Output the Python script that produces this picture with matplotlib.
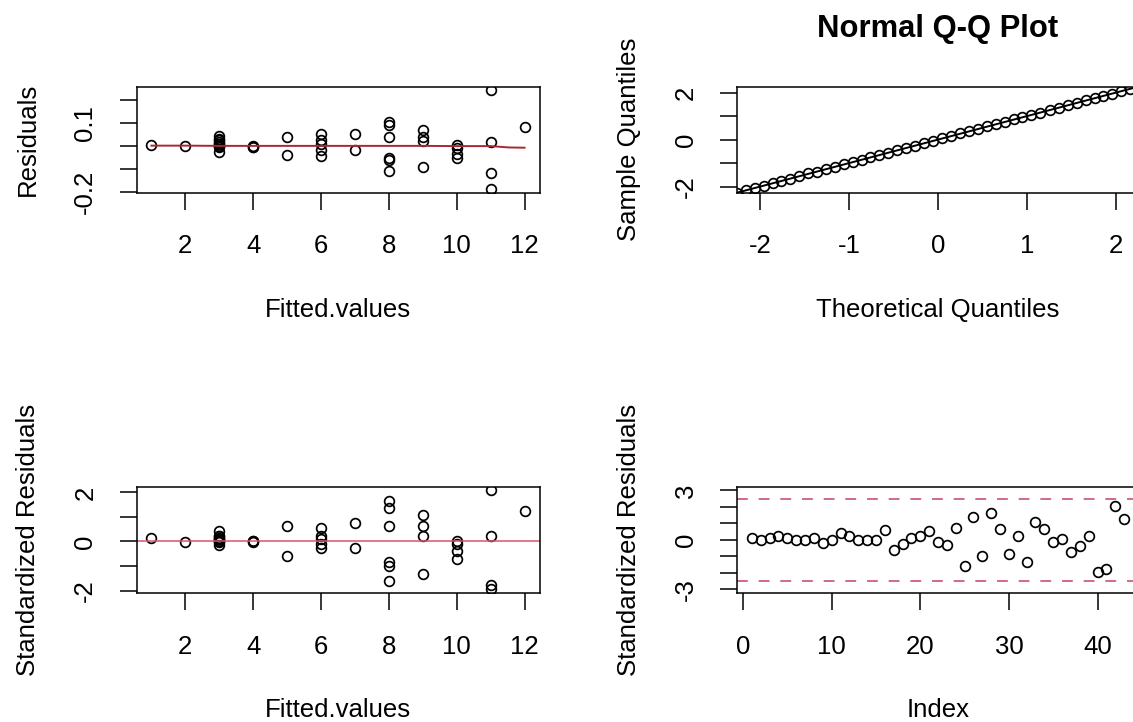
import numpy as np
import matplotlib
matplotlib.use("Agg")
import matplotlib.pyplot as plt

# ---------------- data ----------------
fitted = [1, 2, 3, 3, 3, 3, 3, 3, 3, 3, 3, 3, 4, 4, 4, 5, 5, 6, 6, 6, 6, 6,
          7, 7, 8, 8, 8, 8, 8, 8, 9, 9, 9, 9, 10, 10, 10, 10, 11, 11, 11, 11, 12]
raw_resid = [0.004, 0.000, 0.010, 0.025, 0.010, -0.005, 0.000, 0.015, -0.025, 0.000,
             0.044, 0.030, -0.002, -0.004, -0.006, 0.040, -0.040, -0.044, 0.010, 0.025,
             0.053, -0.020, -0.016, 0.054, -0.110, 0.093, -0.063, 0.103, 0.040, -0.054,
             0.022, -0.093, 0.069, 0.037, -0.010, 0.004, -0.054, -0.037, 0.015, -0.188,
             -0.118, 0.243, 0.084]
std_resid = [0.14, -0.02, 0.10, 0.24, 0.10, -0.02, 0.00, 0.14, -0.16, 0.00,
             0.41, 0.24, 0.02, 0.00, -0.03, 0.63, -0.61, -0.26, 0.10, 0.24,
             0.53, -0.12, -0.28, 0.75, -1.59, 1.36, -0.98, 1.63, 0.65, -0.83,
             0.24, -1.34, 1.06, 0.65, -0.10, 0.04, -0.71, -0.37, 0.24, -1.95,
             -1.79, 2.08, 1.26]
smooth_x = [1, 2, 3, 4, 5, 6, 7, 8, 9, 10, 11, 11.55, 12]
smooth_y = [0.001, 0.001, 0.0, 0.0, 0.0, 0.0, 0.0, 0.0, 0.0, -0.001, -0.001, -0.007, -0.008]

theo_q = [-2.26, -2.16, -2.06, -1.96, -1.86, -1.76, -1.66, -1.56, -1.46, -1.36,
          -1.26, -1.16, -1.06, -0.96, -0.86, -0.76, -0.66, -0.56, -0.46, -0.36,
          -0.26, -0.16, -0.06, 0.05, 0.15, 0.25, 0.35, 0.45, 0.55, 0.65,
          0.75, 0.85, 0.95, 1.05, 1.15, 1.26, 1.36, 1.46, 1.56, 1.66,
          1.76, 1.86, 1.96, 2.06, 2.16, 2.26]
sample_q = [-2.26, -2.14, -2.05, -1.97, -1.84, -1.75, -1.67, -1.55, -1.44, -1.37,
            -1.24, -1.15, -1.04, -0.97, -0.85, -0.74, -0.67, -0.57, -0.44, -0.35,
            -0.27, -0.14, -0.04, 0.07, 0.14, 0.27, 0.36, 0.44, 0.56, 0.67,
            0.74, 0.86, 0.97, 1.04, 1.15, 1.27, 1.35, 1.47, 1.55, 1.67,
            1.75, 1.87, 1.95, 2.07, 2.15, 2.26]

fit_xticks = [2, 4, 6, 8, 10, 12]
res_yticks = [-0.2, -0.1, 0.0, 0.1, 0.2]
res_ylabels = ["-0.2", "", "", "0.1", ""]
qq_xticks = [-2, -1, 0, 1, 2]
qq_yticks = [-2, -1, 0, 1, 2]
qq_ylabels = ["-2", "", "0", "", "2"]
std_yticks = [-2, -1, 0, 1, 2]
std_ylabels = ["-2", "", "0", "", "2"]
idx_xticks = [0, 10, 20, 30, 40]
idx_yticks = [-3, -2, -1, 0, 1, 2, 3]
idx_ylabels = ["-3", "", "", "0", "", "", "3"]
idx_ylim = (-3, 3)
ref_lines = [-2.5, 2.5]

# ---------------- style ----------------
W, H = 1133, 722
FS = 18.5
plt.rcParams["font.family"] = ["Liberation Sans", "DejaVu Sans"]
plt.rcParams["font.size"] = FS
plt.rcParams["axes.unicode_minus"] = False

fig = plt.figure(figsize=(W / 100, H / 100), dpi=100)
fig.patch.set_facecolor("white")


def px_axes(l, t, r, b):
    return fig.add_axes([l / W, 1 - b / H, (r - l) / W, (b - t) / H])


def style(ax):
    for s in ax.spines.values():
        s.set_linewidth(1.1)
        s.set_color("black")
    ax.tick_params(direction="out", length=12.2, width=1.1, labelsize=FS, colors="black")
    ax.tick_params(axis="x", pad=17.5)
    ax.tick_params(axis="y", pad=16, labelrotation=90)
    for lab in ax.get_yticklabels():
        lab.set_va("center")


mk = dict(marker="o", linestyle="none", markerfacecolor="none", markeredgecolor="black",
          markersize=7.0, markeredgewidth=1.25)

L1, R1 = 136.5, 539.5
L2, R2 = 737.0, 1139.0
T1, B1 = 86.5, 192.7
T2, B2 = 486.5, 593.3

# Panel 1: residuals vs fitted
ax1 = px_axes(L1, T1, R1, B1)
ax1.plot(fitted, raw_resid, **mk)
ax1.plot(smooth_x, smooth_y, color="#A82830", lw=1.4)
ax1.margins(0.04)
ax1.set_xticks(fit_xticks)
ax1.set_yticks(res_yticks, labels=res_ylabels)
style(ax1)

# Panel 2: Normal Q-Q
ax2 = px_axes(L2, T1, R2, B1)
ax2.axline((0, 0), slope=1, color="black", lw=1.4)
ax2.plot(theo_q, sample_q, **mk)
ax2.set_xlim(min(theo_q), max(theo_q))
ax2.set_ylim(min(sample_q), max(sample_q))
ax2.set_xticks(qq_xticks)
ax2.set_yticks(qq_yticks, labels=qq_ylabels)
style(ax2)

# Panel 3: standardized residuals vs fitted
ax3 = px_axes(L1, T2, R1, B2)
ax3.plot(fitted, std_resid, **mk)
ax3.margins(0.04)
ax3.axhline(0, color="#D9536B", lw=1.1)
ax3.set_xticks(fit_xticks)
ax3.set_yticks(std_yticks, labels=std_ylabels)
style(ax3)

# Panel 4: standardized residuals vs index
index = np.arange(1, len(std_resid) + 1)
ax4 = px_axes(L2, T2, R2, B2)
ax4.plot(index, std_resid, **mk)
ax4.margins(x=0.04)
pad = 0.04 * (idx_ylim[1] - idx_ylim[0])
ax4.set_ylim(idx_ylim[0] - pad, idx_ylim[1] + pad)
for v in ref_lines:
    ax4.axhline(v, color="#CC6078", lw=1.3, linestyle=(0, (6, 6)))
ax4.set_xticks(idx_xticks)
ax4.set_yticks(idx_yticks, labels=idx_ylabels)
style(ax4)


# Labels
def xlabel(text, cx, baseline):
    fig.text(cx / W, 1 - baseline / H, text, ha="center", va="baseline", fontsize=FS)


def ylabel(text, x_base, cy):
    fig.text(x_base / W, 1 - cy / H, text, ha="center", va="baseline", rotation=90,
             rotation_mode="anchor", fontsize=FS)


xlabel("Fitted.values", (L1 + R1) / 2, 317)
xlabel("Theoretical Quantiles", (L2 + R2) / 2, 317)
xlabel("Fitted.values", (L1 + R1) / 2, 717)
xlabel("Index", (L2 + R2) / 2, 717)
ylabel("Residuals", 35, (T1 + B1) / 2)
ylabel("Sample Quantiles", 35 + (L2 - L1), (T1 + B1) / 2)
ylabel("Standardized Residuals", 35, (T2 + B2) / 2)
ylabel("Standardized Residuals", 35 + (L2 - L1), (T2 + B2) / 2)

fig.text(938 / W, 1 - 37 / H, "Normal Q-Q Plot", ha="center", va="baseline",
         fontsize=22.3, fontweight="bold")

fig.savefig("out.png", dpi=100)
